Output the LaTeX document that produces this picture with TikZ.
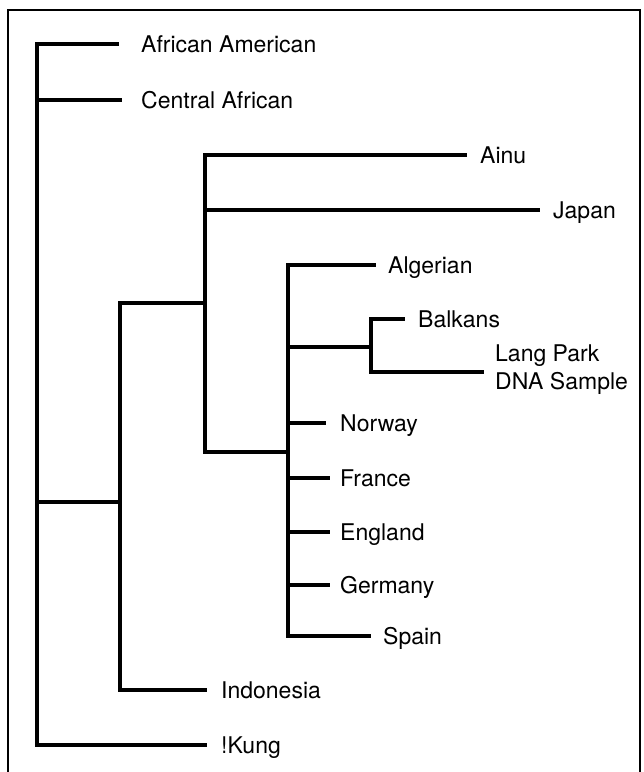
\documentclass[tikz,border=0pt]{standalone}
\usepackage{fontspec}
\setmainfont{TeX Gyre Heros}
\usetikzlibrary{positioning}

\tikzset{
	branch/.style={line width=3.2pt,line join=miter,line cap=rect},
	leaf/.style={anchor=west,inner sep=0pt,text height=16.5pt,text depth=0pt,font=\fontsize{23}{28}\selectfont},
	frame/.style={line width=1.2pt}
}

\begin{document}
\begin{tikzpicture}[x=1pt,y=-1pt]

		\useasboundingbox (0,0) rectangle (644,772);
		\draw[frame] (8,772) -- (8,10) -- (640,10) -- (640,772);

		%% split points
		\coordinate (Root) at (37,502);
		\coordinate (NodeA) at (120,502);
		\coordinate (NodeB) at (205,303);
		\coordinate (NodeC) at (288,452);
		\coordinate (NodeD) at (371,347);

		\node[leaf] (AfricanAmerican) at (141,44) {African American};
		\node[leaf] (CentralAfrican) at (141,100) {Central African};

		\node[leaf] (Ainu) at (480,155) {Ainu};
		\node[leaf] (Japan) at (553,210) {Japan};

		\node[leaf] (Algerian) at (388,265) {Algerian};
		\node[leaf] (Balkans) at (418,319) {Balkans};
		\node[leaf,text height=,text depth=,align=left] (LangPark) at (495,370) {Lang Park\\DNA Sample};
		\node[leaf] (Norway) at (340,423) {Norway};
		\node[leaf] (France) at (340,478) {France};
		\node[leaf] (England) at (340,532) {England};
		\node[leaf] (Germany) at (340,585) {Germany};
		\node[leaf] (Spain) at (383,636) {Spain};

		\node[leaf] (Indonesia) at (221,690) {Indonesia};
		\node[leaf] (Kung) at (221,745) {!Kung};

		\draw[branch] (Root) |- ([xshift=-24]AfricanAmerican.west);
		\draw[branch] (Root) |- ([xshift=-21]CentralAfrican.west);
		\draw[branch] (Root) |- ([xshift=-16]Kung.west);
		\draw[branch] (Root) to (NodeA);

		\draw[branch] (NodeA) |- (NodeB);
		\draw[branch] (NodeA) |- ([xshift=-16]Indonesia.west);

		\draw[branch] (NodeB) |- ([xshift=-15]Ainu.west);
		\draw[branch] (NodeB) |- ([xshift=-15]Japan.west);
		\draw[branch] (NodeB) |- (NodeC);

		\draw[branch] (NodeC) |- ([xshift=-14]Algerian.west);
		\draw[branch] (NodeC) |- (NodeD);
		\draw[branch] (NodeC) |- ([xshift=-16]Norway.west);
		\draw[branch] (NodeC) |- ([xshift=-12]France.west);
		\draw[branch] (NodeC) |- ([xshift=-12]England.west);
		\draw[branch] (NodeC) |- ([xshift=-12]Germany.west);
		\draw[branch] (NodeC) |- ([xshift=-14]Spain.west);

		\draw[branch] (NodeD) |- ([xshift=-15]Balkans.west);
		\draw[branch] (NodeD) |- ([xshift=-13,yshift=-2]LangPark.west);

	\end{tikzpicture}
\end{document}
